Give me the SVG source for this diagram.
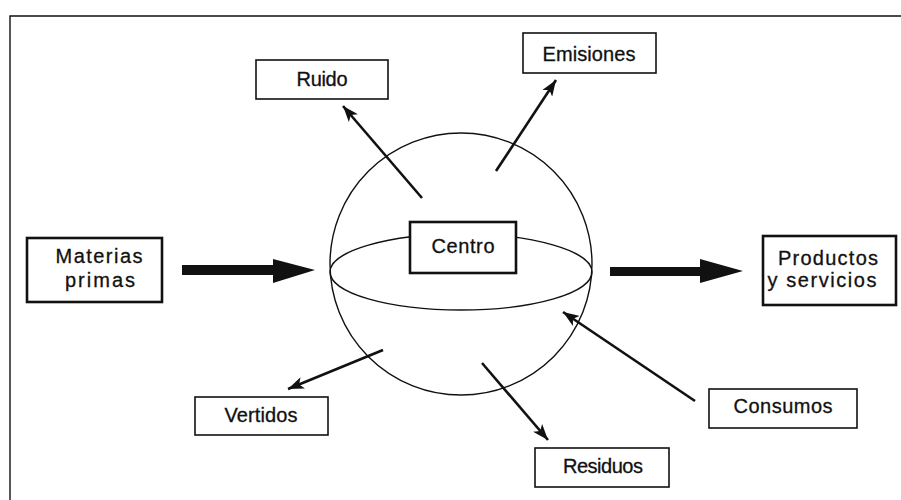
<svg xmlns="http://www.w3.org/2000/svg" width="901" height="500" viewBox="0 0 901 500">
<defs>
<style>
.box{fill:#fff;stroke:#111;stroke-width:1.6}
.bold{fill:#fff;stroke:#111;stroke-width:2.6}
.t{font-family:"Liberation Sans",Arial,sans-serif;font-size:20px;fill:#111;stroke:#111;stroke-width:0.3;text-anchor:middle}
.ar{stroke:#111;stroke-width:2.6;fill:none;marker-end:url(#ah)}
.thin{stroke:#111;stroke-width:1.4;fill:none}
</style>
<marker id="ah" markerUnits="userSpaceOnUse" markerWidth="18" markerHeight="12" refX="16" refY="6" orient="auto">
<path d="M0,0 L16,6 L0,12 L4,6 Z" fill="#111"/>
</marker>
</defs>
<rect width="901" height="500" fill="#fff"/>
<path d="M10,500 L10,16 L901,16" class="thin" stroke-width="2.2"/>
<g id="sphere">
<circle cx="461" cy="264" r="131" class="thin"/>
<ellipse cx="461" cy="272" rx="131" ry="38" class="thin"/>
</g>
<g id="connectors">
<line x1="422" y1="198" x2="343" y2="106" class="ar"/>
<line x1="496" y1="171" x2="556" y2="80" class="ar"/>
<line x1="383" y1="350" x2="288" y2="389" class="ar"/>
<line x1="482" y1="363" x2="548" y2="440" class="ar"/>
<line x1="695" y1="401" x2="563" y2="312" class="ar"/>
<path d="M182,265 L273,265 L273,259 L315,270 L273,283 L273,275 L182,275 Z" fill="#111"/>
<path d="M610,267 L700,267 L700,259 L743,271 L700,283 L700,276 L610,276 Z" fill="#111"/>
</g>
<g id="centro">
<rect x="410" y="222" width="106" height="51" class="bold"/>
<text x="463" y="253" class="t" textLength="63">Centro</text>
</g>
<g id="ruido">
<rect x="256" y="60" width="132" height="39" class="box"/>
<text x="322" y="86" class="t" textLength="51">Ruido</text>
</g>
<g id="emisiones">
<rect x="523" y="33" width="133" height="40" class="box"/>
<text x="589" y="61" class="t" textLength="93">Emisiones</text>
</g>
<g id="materias">
<rect x="27" y="238" width="135" height="64" class="bold"/>
<text x="99" y="263" class="t" textLength="87">Materias</text>
<text x="100" y="287" class="t" textLength="70">primas</text>
</g>
<g id="productos">
<rect x="763" y="236" width="133" height="69" class="bold"/>
<text x="828" y="265" class="t" textLength="100">Productos</text>
<text x="822" y="287" class="t" textLength="109">y servicios</text>
</g>
<g id="vertidos">
<rect x="195" y="397" width="133" height="38" class="box"/>
<text x="261" y="422" class="t" textLength="73">Vertidos</text>
</g>
<g id="residuos">
<rect x="535" y="448" width="134" height="39" class="box"/>
<text x="603" y="473" class="t" textLength="80">Residuos</text>
</g>
<g id="consumos">
<rect x="709" y="389" width="148" height="39" class="box"/>
<text x="783" y="413" class="t" textLength="99">Consumos</text>
</g>
</svg>
